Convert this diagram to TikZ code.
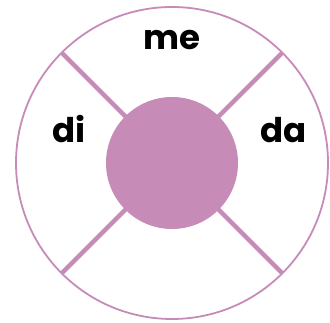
\documentclass[tikz,border=0pt]{standalone}
\usepackage{fontspec}
\setmainfont{Poppins}
\definecolor{mauve}{RGB}{199,139,183}
\begin{document}
\begin{tikzpicture}[x=1pt,y=-1pt]
        % Frame of the picture
        \useasboundingbox (0,0) rectangle (330,323);
        \coordinate (c) at (172,163);

        % Outer ring
        \draw[mauve, line width=1.8pt] (c) circle (156);

        % Spokes
        \foreach \a in {45,135,225,315}
            \draw[mauve, line width=4.5pt] (c) -- ++(\a:156);

        % Hub
        \fill[mauve] (c) circle (66);

        % Syllables
        \node[font=\fontsize{34}{38}\selectfont\bfseries, anchor=base] (me) at (172,50) {me};
        \node[font=\fontsize{34}{38}\selectfont\bfseries, anchor=base] (di) at (69,143) {di};
        \node[font=\fontsize{34}{38}\selectfont\bfseries, anchor=base] (da) at (283.5,143) {da};
    \end{tikzpicture}
\end{document}
